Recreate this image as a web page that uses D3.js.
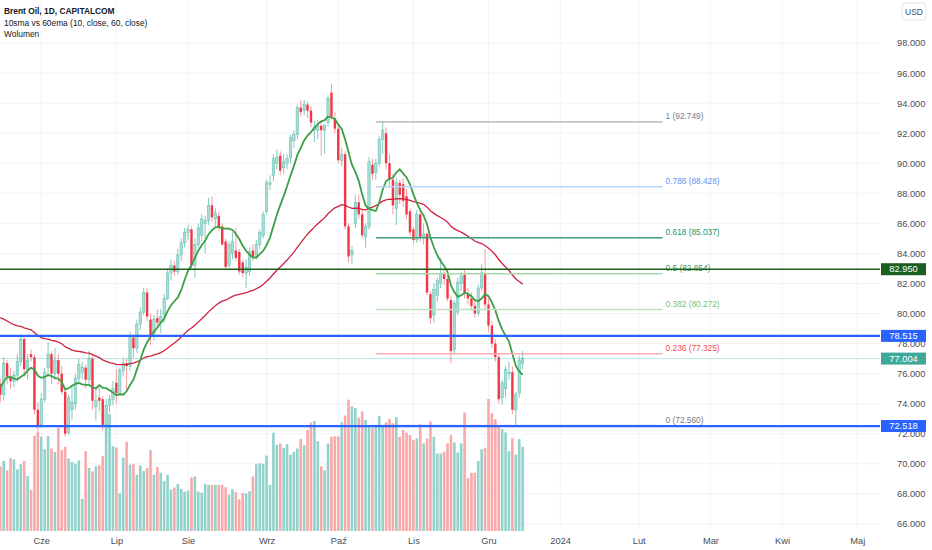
<!DOCTYPE html>
<html lang="en">
<head>
<meta charset="UTF-8">
<title>Brent Oil, 1D</title>
<script src="https://cdnjs.cloudflare.com/ajax/libs/d3/7.8.5/d3.min.js"></script>
<style>
  body { margin: 0; background: #fff; }
  svg { display: block; font-family: "Liberation Sans", Arial, sans-serif; }
  .axis path { display: none; }
  .axis text { fill: #4a4e59; font-size: 9.3px; }
</style>
</head>
<body>
<div id="chart"></div>
<script>
// daily bars, 16 May 2023 .. 15 Dec 2023 (weekdays)
const opens = [
  75.3,74.6,76.7,75.8,75.5,75.9,76.8,78.3,76.3,77.3,77.1,73.6,
  72.6,74.3,76.4,77.3,76.0,76.9,76.0,74.8,72.1,73.6,74.0,75.7,76.1,76.4,75.6,77.0,73.8,74.4,74.3,72.6,73.9,74.3,
  75.4,74.7,76.2,76.7,76.5,78.4,77.7,79.3,80.1,81.4,79.6,78.5,79.7,79.4,79.9,81.0,82.7,83.2,82.8,83.9,84.7,
  85.4,85.6,83.2,84.6,85.2,86.0,86.2,87.2,86.3,86.5,85.8,84.8,83.2,84.0,84.2,84.1,83.4,82.7,82.8,84.2,83.9,84.6,85.2,
  86.8,88.6,89.2,90.0,90.5,89.7,90.0,90.35,91.5,91.9,93.7,93.5,93.9,93.5,92.2,92.2,92.5,92.2,92.7,94.7,93.0,
  92.3,90.2,90.6,85.8,83.9,86.0,87.4,86.6,85.1,85.8,89.9,89.4,90.0,91.6,92.0,90.0,88.9,87.0,88.7,88.6,87.8,86.8,
  85.6,84.9,86.6,85.1,85.3,81.3,79.9,81.2,82.0,82.7,82.3,80.9,77.6,80.1,82.0,82.6,81.3,81.0,80.5,80.0,81.7,82.7,
  80.6,79.2,78.0,77.1,74.4,75.0,76.0,76.1,73.6,74.7,76.7
];
const highs = [
  75.7,77.1,76.9,76.4,76.2,77.3,78.6,78.4,77.3,77.6,77.3,74.1,
  74.7,76.4,78.1,77.5,77.7,77.3,76.5,75.0,74.6,75.2,76.0,77.0,76.8,76.6,77.5,77.2,75.0,75.1,74.5,74.3,74.6,75.5,
  76.3,76.4,77.0,77.0,78.8,78.6,79.6,80.4,81.7,81.7,80.0,79.9,80.3,80.3,81.3,83.0,83.6,83.5,84.3,85.0,85.7,
  85.9,85.8,85.0,86.0,86.6,86.5,87.7,87.8,87.0,86.8,86.0,85.0,84.8,85.4,85.7,84.3,83.6,83.6,84.4,84.6,84.9,85.6,86.8,
  88.9,89.2,90.6,90.9,90.8,90.6,90.6,91.9,92.2,93.9,94.2,94.2,94.1,93.8,92.8,92.9,92.8,92.6,94.5,95.3,93.4,
  92.5,91.0,90.8,86.0,84.5,87.9,87.9,87.0,86.0,90.4,90.3,90.3,91.8,92.75,92.4,90.6,89.3,89.0,88.9,89.0,88.3,87.0,
  85.8,86.9,86.9,86.0,85.4,81.5,82.0,82.4,83.7,83.0,82.6,81.2,80.9,82.4,82.8,82.9,81.7,81.4,80.9,81.9,83.3,84.3,
  81.0,79.5,78.3,77.3,75.6,76.5,76.8,76.5,74.8,77.2,77.5
];
const lows = [
  74.1,74.2,75.3,75.0,75.1,75.5,76.5,75.8,75.6,76.8,73.3,71.9,
  72.4,74.1,75.8,75.3,75.6,75.3,74.6,71.8,71.9,72.9,73.6,75.4,75.6,75.0,75.3,73.6,72.9,73.5,72.2,71.85,73.4,73.9,
  74.0,74.6,75.8,74.9,76.2,77.0,77.4,78.9,79.9,79.5,77.9,78.2,79.0,78.7,79.4,80.9,82.2,82.5,82.6,83.5,84.4,
  84.9,82.9,82.4,84.4,84.8,84.0,85.9,86.1,85.8,85.5,84.5,82.9,83.0,83.6,83.5,82.6,82.4,81.7,82.5,83.5,83.6,84.3,85.0,
  86.6,88.2,88.8,89.6,89.2,89.3,89.6,90.0,91.0,91.6,93.1,93.2,93.0,92.4,91.4,91.6,90.5,90.6,92.4,92.9,92.0,
  90.0,89.8,85.6,83.4,83.3,85.7,86.3,85.0,84.4,85.6,88.9,88.9,89.8,90.6,89.6,88.4,86.6,85.9,87.3,87.1,86.3,85.2,
  84.6,84.7,84.8,84.6,81.2,79.3,79.4,80.8,81.7,81.9,80.8,76.7,77.3,79.9,81.5,81.0,80.6,80.3,79.7,79.8,81.5,80.3,
  78.8,77.7,76.8,74.0,73.9,74.4,75.6,73.3,72.56,74.4,76.3
];
const closes = [
  74.6,76.7,75.8,75.5,75.9,76.8,78.3,76.3,76.9,77.1,73.6,72.5,
  74.3,76.1,77.3,76.0,76.9,76.0,74.8,72.0,74.4,74.1,75.7,76.6,76.4,75.6,77.0,74.2,74.2,74.2,72.6,73.9,74.3,75.0,
  74.7,76.2,76.7,76.5,78.4,77.7,79.3,80.1,81.4,79.8,78.5,79.6,79.4,79.8,81.0,82.7,83.2,82.8,83.9,84.7,85.4,
  85.6,83.2,84.6,85.7,86.3,86.2,87.2,86.4,86.7,85.7,84.6,83.1,84.6,84.8,83.7,82.8,82.7,83.1,84.1,83.8,84.6,85.4,86.6,
  88.75,88.7,90.3,90.4,89.5,90.1,90.3,91.7,91.9,93.7,93.4,93.9,93.5,92.7,92.4,92.5,92.2,92.5,94.3,93.1,92.3,
  90.2,90.6,85.8,83.8,84.2,87.4,86.6,85.2,85.8,90.1,89.3,90.0,91.6,92.2,90.0,88.9,87.2,88.7,87.9,87.5,86.6,85.4,
  84.9,86.6,85.1,85.3,81.4,79.7,81.6,82.2,82.6,82.3,81.0,77.5,80.7,82.1,82.5,81.3,81.0,80.5,80.0,81.7,82.7,80.6,
  79.2,78.0,77.1,74.3,75.4,76.3,76.1,73.6,74.6,76.9,77.004
];
const volumes = [
  192,208,180,217,213,183,198,208,163,122,283,293,
  280,243,282,245,235,307,240,250,215,205,200,210,95,237,187,177,192,195,223,350,347,252,
  248,112,218,265,197,200,167,195,178,187,240,167,190,173,148,167,123,129,140,125,117,
  120,159,162,117,114,140,137,137,137,137,137,130,108,124,115,94,113,111,118,162,198,201,200,
  224,137,292,256,260,247,258,227,235,245,273,255,300,322,327,267,192,180,260,280,281,
  281,323,343,390,370,365,337,355,330,310,307,312,342,312,323,333,320,338,280,300,292,285,
  270,275,317,260,275,325,280,230,230,235,260,285,263,233,260,352,157,173,173,208,243,247,
  392,350,332,310,303,293,237,275,227,273,250
];
// closes before the first visible bar (for the 10 sma) and 60 ema value just before it
const priorCloses = [72.9, 73.0, 75.3, 77.0, 77.4, 76.4, 75.0, 74.2, 75.2];
const emaStart = 79.9;

const monthLabels = ["Cze", "Lip", "Sie", "Wrz", "Paź", "Lis", "Gru", "2024", "Lut", "Mar", "Kwi", "Maj"];
const priceTicks = d3.range(66, 99, 2);

// drawings
const hLevels = [82.950, 78.515, 72.518];
const hColors = ["#1b5e20", "#2962ff", "#2962ff"];
const fibHigh = 92.7486, fibLow = 72.5602;
const fibLevels = [1, 0.786, 0.618, 0.5, 0.382, 0.236, 0];
const fibColors = ["#9598a1", "#b7d2fb", "#3d9d7a", "#a9d8ab", "#bfe3c1", "#f7adb2", "#9598a1"];
const fibText = ["#787b86", "#5d93ef", "#1f8f6a", "#3f9a55", "#74c081", "#f04a55", "#787b86"];
const fibFrom = 110, fibTo = 194;

const width = 932, height = 550, plotW = 880, plotB = 531;

const svg = d3.select("#chart").append("svg")
    .attr("width", width)
    .attr("height", height);

const x = d3.scaleLinear().domain([0, 251]).range([0.3, 857.2]);
const y = d3.scaleLinear().domain([66, 98]).range([524, 43]);
const yVol = d3.scaleLinear().domain([0, 392]).range([plotB, 399]);

// weekday calendar -> first bar of every month
const days = d3.utcDay.range(new Date(Date.UTC(2023, 4, 16)), new Date(Date.UTC(2024, 5, 1)))
    .filter(d => d.getUTCDay() % 6 !== 0);
let monthIdx = [];
days.forEach((d, i) => {
    if (i > 0 && d.getUTCMonth() !== days[i - 1].getUTCMonth()) monthIdx.push(i);
});
monthIdx = monthIdx.slice(0, monthLabels.length);

// grid
svg.append("g").selectAll("line").data(priceTicks).enter().append("line")
    .attr("x1", 0).attr("x2", plotW)
    .attr("y1", d => y(d)).attr("y2", d => y(d))
    .attr("stroke", "#f0f3fa");
svg.append("g").selectAll("line").data(monthIdx).enter().append("line")
    .attr("x1", d => x(d)).attr("x2", d => x(d))
    .attr("y1", 0).attr("y2", plotB)
    .attr("stroke", "#f0f3fa");

const up = i => closes[i] >= opens[i];

// volume
svg.append("g").selectAll("rect").data(volumes).enter().append("rect")
    .attr("x", (d, i) => x(i) - 1.3)
    .attr("width", 2.6)
    .attr("y", d => yVol(d))
    .attr("height", d => plotB - yVol(d))
    .attr("fill", (d, i) => up(i) ? "#92d2cb" : "#f8a9aa");

// candles
const cg = svg.append("g");
cg.selectAll("line").data(closes).enter().append("line")
    .attr("x1", (d, i) => x(i)).attr("x2", (d, i) => x(i))
    .attr("y1", (d, i) => y(highs[i])).attr("y2", (d, i) => y(lows[i]))
    .attr("stroke", (d, i) => up(i) ? "#7fc9bd" : "#f79aa1")
    .attr("stroke-width", 1);
cg.selectAll("rect").data(closes).enter().append("rect")
    .attr("x", (d, i) => x(i) - 1.2)
    .attr("width", 2.4)
    .attr("y", (d, i) => y(Math.max(opens[i], d)))
    .attr("height", (d, i) => Math.max(1, Math.abs(y(opens[i]) - y(d))))
    .attr("fill", (d, i) => up(i) ? "#a9ddd4" : "#f23645")
    .attr("stroke", (d, i) => up(i) ? "#6fc2b4" : "none")
    .attr("stroke-width", 0.6);

// 10 sma / 60 ema
const all = priorCloses.concat(closes);
const sma = closes.map((c, i) => d3.mean(all.slice(i, i + 10)));
const k = 2 / 61;
let prev = emaStart;
const ema = closes.map(c => (prev = prev + k * (c - prev)));

const line = d3.line().x((d, i) => x(i)).y(d => y(d));
svg.append("path").datum(ema).attr("d", line)
    .attr("fill", "none").attr("stroke", "#d0203f").attr("stroke-width", 1.3);
svg.append("path").datum(sma).attr("d", line)
    .attr("fill", "none").attr("stroke", "#3d9f45").attr("stroke-width", 1.8);

// fib retracement
const fib = fibLevels.map(l => fibLow + (fibHigh - fibLow) * l);
const fg = svg.append("g");
fg.selectAll("line").data(fib).enter().append("line")
    .attr("x1", x(fibFrom)).attr("x2", x(fibTo))
    .attr("y1", d => y(d)).attr("y2", d => y(d))
    .attr("stroke", (d, i) => fibColors[i])
    .attr("stroke-width", (d, i) => (i === 0 || i === 6) ? 1 : 1.5);
fg.selectAll("text").data(fib).enter().append("text")
    .attr("x", x(fibTo) + 3).attr("y", d => y(d) - 2.5)
    .attr("font-size", "8.3px")
    .attr("fill", (d, i) => fibText[i])
    .text((d, i) => `${fibLevels[i]} (${d.toFixed(3)})`);

// horizontal lines + last price
const last = closes[closes.length - 1];
svg.append("line")
    .attr("x1", 0).attr("x2", plotW).attr("y1", y(last)).attr("y2", y(last))
    .attr("stroke", "#26a69a").attr("stroke-opacity", 0.3);
svg.append("g").selectAll("line").data(hLevels).enter().append("line")
    .attr("x1", 0).attr("x2", plotW)
    .attr("y1", d => y(d)).attr("y2", d => y(d))
    .attr("stroke", (d, i) => hColors[i])
    .attr("stroke-width", (d, i) => i === 0 ? 1.6 : 2.2);

// axes
svg.append("g").attr("class", "axis")
    .attr("transform", `translate(0,${plotB})`)
    .call(d3.axisBottom(x).tickValues(monthIdx).tickFormat((d, i) => monthLabels[i]).tickSize(0).tickPadding(6));
svg.append("g").attr("class", "axis")
    .attr("transform", `translate(893,0)`)
    .call(d3.axisRight(y).tickValues(priceTicks).tickFormat(d3.format(".3f")).tickSize(0).tickPadding(4));

// price labels on the scale
const tags = hLevels.map((v, i) => ({ v, c: hColors[i] })).concat([{ v: last, c: "#3ea99a" }]);
const tg = svg.append("g").selectAll("g").data(tags).enter().append("g")
    .attr("transform", d => `translate(881,${y(d.v)})`);
tg.append("rect").attr("x", 0).attr("y", -6).attr("width", 45).attr("height", 12)
    .attr("fill", d => d.c);
tg.append("text").attr("x", 22.5).attr("dy", "0.35em").attr("text-anchor", "middle")
    .attr("font-size", "9.3px").attr("fill", "#fff")
    .text(d => d.v.toFixed(3));

// USD box
svg.append("rect").attr("x", 902).attr("y", 3).attr("width", 24).attr("height", 17).attr("rx", 3)
    .attr("fill", "#fff").attr("stroke", "#e0e3eb");
svg.append("text").attr("x", 914).attr("y", 14.5).attr("text-anchor", "middle")
    .attr("font-size", "8.5px").attr("fill", "#4a4e59").text("USD");

// legend
const legend = ["Brent Oil, 1D, CAPITALCOM", "10sma vs 60ema (10, close, 60, close)", "Wolumen"];
svg.append("g").selectAll("text").data(legend).enter().append("text")
    .attr("x", 4).attr("y", (d, i) => 14 + i * 11.5)
    .attr("font-size", "8.4px").attr("fill", "#131722")
    .attr("font-weight", (d, i) => i === 0 ? 700 : 400)
    .text(d => d);
</script>
</body>
</html>
